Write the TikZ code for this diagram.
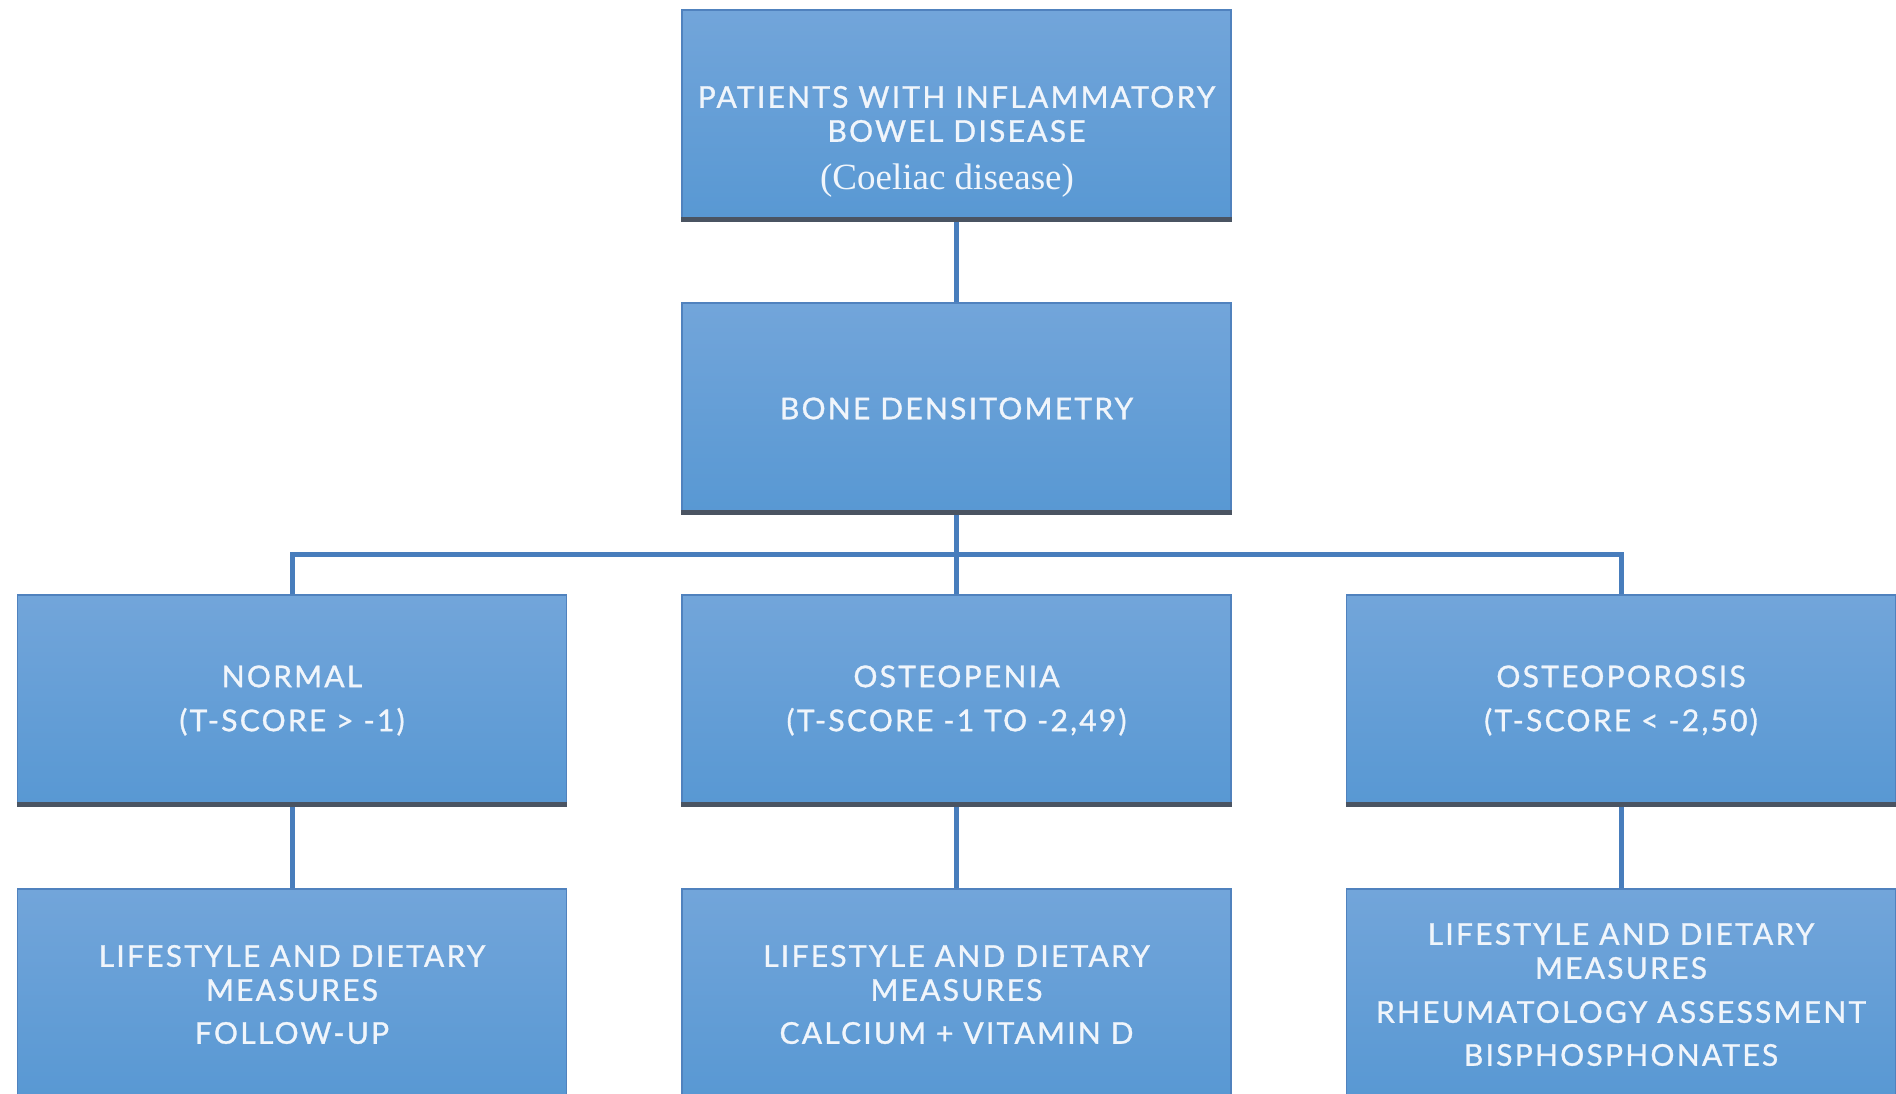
\documentclass[tikz,border=0pt]{standalone}
\usepackage{fontspec}
\setmainfont{Lato}
\newfontfamily\serifface{Liberation Serif}
\newfontfamily\latotrack[LetterSpace=7.5,FakeBold=1]{Lato}
\definecolor{boxtop}{RGB}{114,165,218}
\definecolor{boxbot}{RGB}{88,152,211}
\definecolor{boxedge}{RGB}{80,130,190}
\definecolor{edgedark}{RGB}{74,84,98}
\definecolor{connblue}{RGB}{72,125,188}
\definecolor{boxtext}{RGB}{240,245,251}
\tikzset{
  box/.style={rectangle, minimum width=549pt, minimum height=211pt, inner sep=0pt,
    top color=boxtop, bottom color=boxbot, draw=boxedge, line width=1.2pt,
    text=boxtext, align=center, font=\latotrack\fontsize{30}{34}\selectfont},
  txt/.style={text=boxtext, align=center, inner sep=0pt, font=\latotrack\fontsize{30}{34}\selectfont},
  sertxt/.style={text=boxtext, inner sep=0pt, font=\serifface\fontsize{37}{40}\selectfont},
  conn/.style={draw=connblue, line width=5pt},
  darkedge/.style={draw=edgedark, line width=5pt},
}
\begin{document}
\begin{tikzpicture}[x=1pt,y=-1pt]
\useasboundingbox (0,0) rectangle (1896,1093);
\clip (0,0) rectangle (1896,1093);
\fill[white] (0,0) rectangle (1896,1093);

\node[box] (top) at (956.5,115.5) {};
\node[box] (dens) at (956.5,408.5) {BONE DENSITOMETRY};
\node[box] (normal) at (292,700.5) {NORMAL\\[10pt](T-SCORE > -1)};
\node[box] (osteopenia) at (956.5,700.5) {OSTEOPENIA\\[10pt](T-SCORE -1 TO -2,49)};
\node[box] (osteoporosis) at (1621,700.5) {OSTEOPOROSIS\\[10pt](T-SCORE < -2,50)};
\node[box] (mnormal) at (292,994.5) {LIFESTYLE AND DIETARY\\MEASURES\\[9pt]FOLLOW-UP};
\node[box] (mpenia) at (956.5,994.5) {LIFESTYLE AND DIETARY\\MEASURES\\[9pt]CALCIUM + VITAMIN D};
\node[box] (mporosis) at (1621,994.5) {LIFESTYLE AND DIETARY\\MEASURES\\[10pt]RHEUMATOLOGY ASSESSMENT\\[9pt]BISPHOSPHONATES};

\node[txt] (toptxt) at (956.5,114) {PATIENTS WITH INFLAMMATORY\\BOWEL DISEASE};
\node[sertxt] (coeliac) at (947,181) {(Coeliac disease)};

\foreach \b in {top,dens,normal,osteopenia,osteoporosis}{
  \draw[darkedge] ([yshift=2.5pt]\b.south west) -- ([yshift=2.5pt]\b.south east);
}

\coordinate (bus) at (956.5,554);
\draw[conn] (top.south) -- (dens.north);
\draw[conn] (dens.south) -- (osteopenia.north);
\draw[conn] (normal.north) |- (bus) -| (osteoporosis.north);
\draw[conn] (normal.south) -- (mnormal.north);
\draw[conn] (osteopenia.south) -- (mpenia.north);
\draw[conn] (osteoporosis.south) -- (mporosis.north);
\end{tikzpicture}
\end{document}
